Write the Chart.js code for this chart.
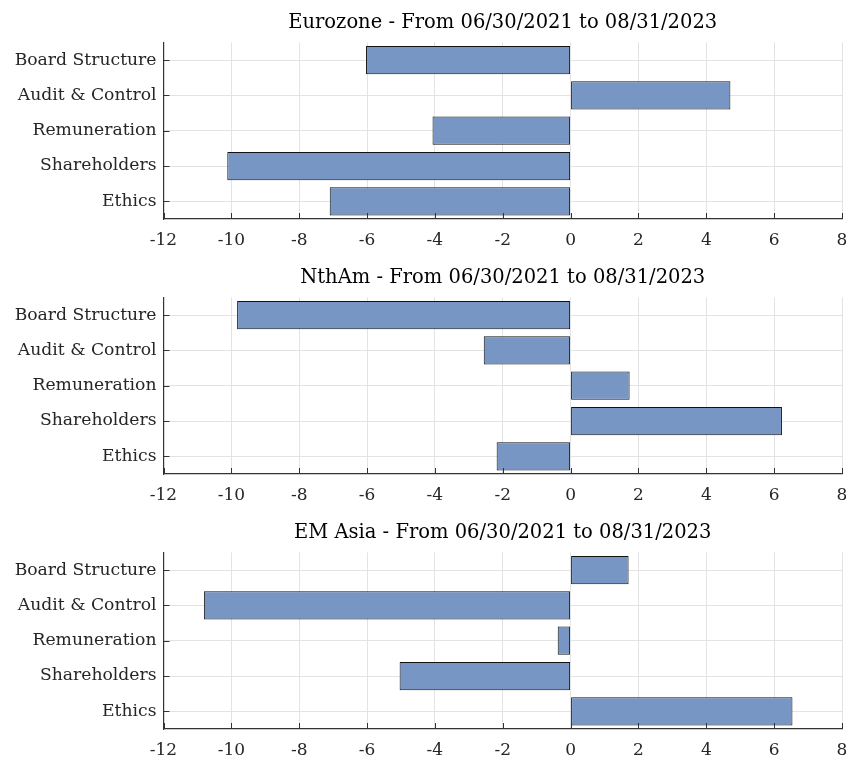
<!DOCTYPE html>
<html><head><meta charset="utf-8">
<script src="https://cdn.jsdelivr.net/npm/chart.js@4/dist/chart.umd.min.js"></script>
<style>
html,body{margin:0;padding:0;background:#fff;overflow:hidden;width:846px;height:758px}
.panel{position:absolute;left:0;width:846px;height:255px}
</style></head><body>
<div class="panel" style="top:0"><canvas id="c0" width="846" height="255"></canvas></div>
<div class="panel" style="top:255px"><canvas id="c1" width="846" height="255"></canvas></div>
<div class="panel" style="top:510px"><canvas id="c2" width="846" height="255"></canvas></div>
<script>
// Governance pillars, top to bottom
const categories = ['Board Structure', 'Audit & Control', 'Remuneration', 'Shareholders', 'Ethics'];

// Region titles
const titles = [
  'Eurozone - From 06/30/2021 to 08/31/2023',
  'NthAm - From 06/30/2021 to 08/31/2023',
  'EM Asia - From 06/30/2021 to 08/31/2023'
];

// Change per pillar, one array per region
const eurozone = [-6.03, 4.71, -4.07, -10.12, -7.10];
const nthAm    = [-9.83, -2.56, 1.74, 6.23, -2.18];
const emAsia   = [1.71, -10.81, -0.38, -5.04, 6.54];

// Value axis range and tick step
const xMin = -12;
const xMax = 8;
const xStep = 2;

const FONT = 'DejaVu Serif';
const TEXT = '#262626';
const AXIS = '#333333';
const GRID = '#e3e3e3';
const FILL = '#7896c3';
const EDGE = '#111111';

// Short tick marks drawn inward from the left and bottom axis lines
const innerTicks = {
  id: 'innerTicks',
  afterDatasetsDraw(chart) {
    const { ctx, chartArea, scales } = chart;
    ctx.save();
    ctx.strokeStyle = AXIS;
    ctx.lineWidth = 1;
    ctx.beginPath();
    scales.y.ticks.forEach((t, i) => {
      const y = Math.round(scales.y.getPixelForTick(i)) + 0.5;
      ctx.moveTo(chartArea.left, y);
      ctx.lineTo(chartArea.left + 6, y);
    });
    scales.x.ticks.forEach((t, i) => {
      const x = Math.round(scales.x.getPixelForTick(i)) + 0.5;
      ctx.moveTo(x, chartArea.bottom);
      ctx.lineTo(x, chartArea.bottom - 6);
    });
    ctx.stroke();
    ctx.restore();
  }
};

function makeChart(id, title, values) {
  return new Chart(document.getElementById(id), {
    type: 'bar',
    data: {
      labels: categories,
      datasets: [{
        data: values,
        backgroundColor: FILL,
        borderColor: EDGE,
        borderWidth: 1,
        borderSkipped: false,
        barPercentage: 0.8,
        categoryPercentage: 1.0
      }]
    },
    options: {
      indexAxis: 'y',
      responsive: false,
      animation: false,
      layout: { padding: { left: 0, right: 4, top: 0, bottom: 0 } },
      plugins: {
        legend: { display: false },
        tooltip: { enabled: false },
        title: {
          display: true,
          fullSize: false,
          text: title,
          color: '#000',
          font: { family: FONT, size: 19.5, weight: 'normal', lineHeight: 1.2 },
          padding: { top: 11, bottom: 8 },
          align: 'center'
        }
      },
      scales: {
        x: {
          type: 'linear',
          min: xMin,
          max: xMax,
          ticks: {
            stepSize: xStep,
            color: TEXT,
            padding: 11,
            maxRotation: 0,
            font: { family: FONT, size: 17 }
          },
          grid: { color: GRID, drawTicks: false, lineWidth: 1 },
          border: { display: true, color: AXIS, width: 1.2 },
          afterFit(scale) {
            scale.height = 36;
            scale.paddingLeft = 0;
            scale.paddingRight = 0;
          }
        },
        y: {
          type: 'category',
          offset: true,
          ticks: {
            color: TEXT,
            padding: 7,
            font: { family: FONT, size: 17.2 }
          },
          grid: { color: GRID, drawTicks: false, offset: false, lineWidth: 1 },
          border: { display: true, color: AXIS, width: 1.2 },
          afterFit(scale) {
            scale.width = 163.5;
          }
        }
      }
    },
    plugins: [innerTicks]
  });
}

makeChart('c0', titles[0], eurozone);
makeChart('c1', titles[1], nthAm);
makeChart('c2', titles[2], emAsia);
</script>
</body></html>
